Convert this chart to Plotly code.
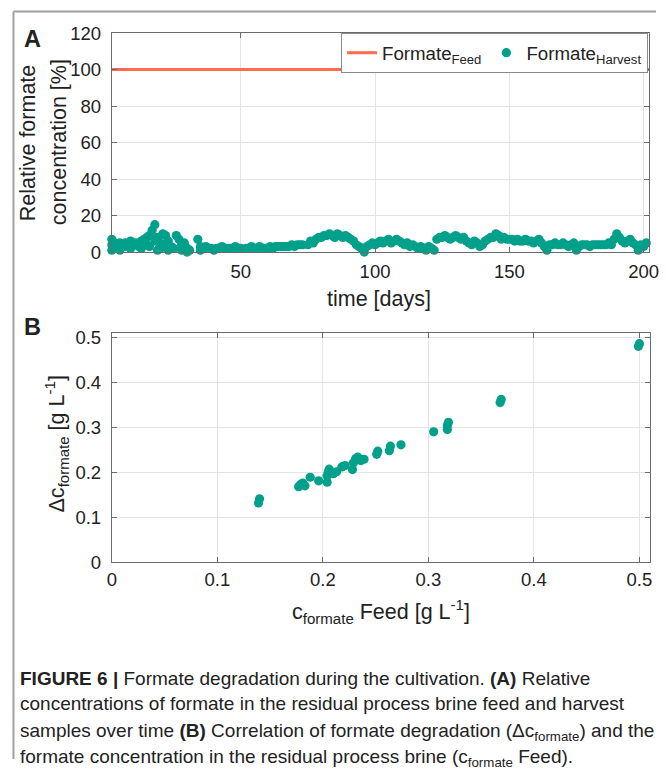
import plotly.graph_objects as go

# ---------------- data ----------------
# Panel A: relative formate concentration in harvest samples [%]
harvest_days = [
    2, 2, 2, 3, 3, 4, 5, 5, 6, 7, 7, 8, 9, 9, 10, 11, 12, 13, 13, 14,
    15, 15, 16, 16, 17, 18, 18, 19, 19, 20, 20, 21, 22, 22, 23, 23, 24, 25, 26, 27,
    28, 28, 29, 30, 30, 31, 34, 35, 35, 36, 37, 38, 39, 40, 41, 42, 43, 44, 45, 46,
    47, 48, 49, 50, 52, 53, 54, 55, 56, 57, 58, 59, 60, 61, 62, 63, 64, 65, 66, 67,
    68, 69, 70, 71, 72, 73, 75, 76, 77, 78, 79, 80, 81, 82, 83, 84, 85, 86, 87, 88,
    89, 90, 91, 92, 93, 94, 95, 96, 97, 98, 99, 100, 101, 102, 103, 104, 105, 106, 107, 108,
    109, 110, 111, 112, 113, 114, 115, 116, 117, 118, 119, 120, 121, 122, 123, 124, 125, 126, 127, 128,
    129, 130, 131, 132, 133, 134, 135, 136, 137, 138, 139, 140, 141, 142, 143, 144, 145, 146, 147, 148,
    149, 150, 151, 152, 153, 154, 155, 156, 157, 158, 159, 160, 161, 162, 163, 164, 165, 166, 167, 168,
    169, 170, 171, 172, 173, 174, 175, 176, 177, 178, 179, 180, 181, 182, 183, 184, 185, 186, 187, 188,
    189, 190, 191, 192, 193, 194, 195, 196, 197, 198, 199, 200, 201,
]
harvest_values = [
    7, 1, 4, 2, 5, 3, 5, 1, 4, 5, 3, 4, 6, 2, 4, 5, 3, 6, 2, 7,
    8, 4, 9, 3, 12, 15, 6, 8, 1, 5, 2, 10, 9, 4, 6, 1, 3, 2, 9, 7,
    4, 1, 5, 2, 0, 1, 7, 3, 1, 2, 3, 2, 2, 1, 2, 2, 3, 2, 2, 2,
    2, 3, 2, 2, 2, 2, 3, 2, 2, 3, 2, 2, 2, 3, 2, 3, 3, 3, 3, 3,
    3, 4, 3, 4, 4, 4, 4, 6, 5, 7, 8, 8, 9, 9, 10, 9, 8, 10, 9, 8,
    9, 8, 7, 6, 4, 3, 2, 0, 3, 4, 5, 4, 5, 6, 5, 6, 7, 5, 6, 7,
    6, 5, 4, 5, 3, 4, 3, 2, 3, 2, 1, 3, 2, 1, 7, 8, 8, 9, 8, 7,
    8, 9, 8, 7, 8, 6, 5, 4, 6, 5, 3, 4, 6, 7, 8, 8, 10, 9, 7, 8,
    7, 7, 7, 6, 7, 6, 6, 7, 6, 6, 5, 6, 7, 5, 3, 1, 4, 4, 5, 4,
    4, 5, 4, 3, 4, 5, 1, 3, 4, 4, 4, 3, 4, 4, 4, 4, 4, 4, 5, 4,
    7, 10, 8, 6, 5, 6, 7, 5, 4, 1, 4, 3, 5,
]
# Feed reference (100 %)
feed_days = [0, 210]
feed_values = [100, 100]

# Panel B: c_formate Feed vs delta c_formate [g/L]
feed_conc = [
    0.139, 0.140, 0.177, 0.179, 0.181, 0.183, 0.188, 0.196, 0.204, 0.204,
    0.205, 0.206, 0.210, 0.213, 0.218, 0.221, 0.228, 0.229, 0.231, 0.233,
    0.236, 0.239, 0.251, 0.252, 0.263, 0.264, 0.274, 0.305, 0.318, 0.318,
    0.319, 0.368, 0.369, 0.499, 0.500,
]
delta_conc = [
    0.132, 0.141, 0.168, 0.173, 0.176, 0.170, 0.189, 0.181, 0.178, 0.192,
    0.200, 0.207, 0.197, 0.201, 0.212, 0.215, 0.206, 0.221, 0.230, 0.234,
    0.226, 0.229, 0.240, 0.247, 0.248, 0.258, 0.261, 0.290, 0.295, 0.304,
    0.311, 0.355, 0.362, 0.480, 0.486,
]

a_xticks = [50, 100, 150, 200]
a_yticks = [0, 20, 40, 60, 80, 100, 120]
b_ticks = [0, 0.1, 0.2, 0.3, 0.4, 0.5]
b_ticklabels = ["0", "0.1", "0.2", "0.3", "0.4", "0.5"]

caption_lines = [
    "<b>FIGURE 6 |</b> Formate degradation during the cultivation. <b>(A)</b> Relative",
    "concentrations of formate in the residual process brine feed and harvest",
    "samples over time <b>(B)</b> Correlation of formate degradation (Δc<sub>formate</sub>) and the",
    "formate concentration in the residual process brine (c<sub>formate</sub> Feed).",
]

# ---------------- layout helpers ----------------
W, H = 666, 769
# compensation for the capture's scale/offset (measured)
SX, OX = 0.979, 4.0
SY, OY = 0.975, 10.4
def px(x):
    return (x - OX) / SX / W
def py(y):
    return 1 - (y - OY) / SY / H

TEAL = "#00A08A"
RED = "#FF6B4F"
FONT = "Liberation Sans, Arial, sans-serif"
AXCOL = "#6b6b6b"
GRID = "#e4e4e4"

fig = go.Figure()
fig.add_trace(go.Scatter(
    x=feed_days, y=feed_values, mode="lines", name="Formate<sub>Feed</sub>",
    line=dict(color=RED, width=3), xaxis="x", yaxis="y",
))
fig.add_trace(go.Scatter(
    x=harvest_days, y=harvest_values, mode="markers", name="Formate<sub>Harvest</sub>",
    marker=dict(color=TEAL, size=9.2), xaxis="x", yaxis="y", cliponaxis=False,
))
fig.add_trace(go.Scatter(
    x=feed_conc, y=delta_conc, mode="markers", showlegend=False,
    marker=dict(color=TEAL, size=9.2), xaxis="x2", yaxis="y2", cliponaxis=False,
))

axis_common = dict(
    showline=True, linecolor=AXCOL, linewidth=1, mirror="ticks",
    ticks="inside", ticklen=5, tickcolor=AXCOL,
    showgrid=True, gridcolor=GRID, gridwidth=1, zeroline=False,
    tickfont=dict(family=FONT, size=18.5, color="#222"),
    ticklabeloverflow="allow",
)

fig.update_layout(
    width=W, height=H, autosize=False,
    margin=dict(l=0, r=0, t=0, b=0),
    paper_bgcolor="white", plot_bgcolor="white",
    font=dict(family=FONT, color="#222"),
    xaxis=dict(domain=[px(111), px(649)], range=[2, 202], tickvals=a_xticks, anchor="y",
               ticklabelstandoff=3, **axis_common),
    yaxis=dict(domain=[py(252), py(32.5)], range=[0, 120], tickvals=a_yticks, anchor="x",
               ticklabelstandoff=6, **axis_common),
    xaxis2=dict(domain=[px(111), px(650)], range=[0, 0.51], tickvals=b_ticks, ticktext=b_ticklabels,
                anchor="y2", ticklabelstandoff=1, **axis_common),
    yaxis2=dict(domain=[py(563), py(333)], range=[0, 0.51], tickvals=b_ticks, ticktext=b_ticklabels,
                anchor="x2", ticklabelstandoff=6, **axis_common),
    legend=dict(
        orientation="h", x=px(648), xanchor="right", y=py(32.5), yanchor="top",
        bgcolor="white", bordercolor="#8a8a8a", borderwidth=1,
        font=dict(family=FONT, size=18.7, color="#222"),
        itemwidth=30, tracegroupgap=0,
    ),
    showlegend=True,
)

ann = []
def text(x, y, s, size, angle=0, xanchor="center", yanchor="middle", family=FONT):
    ann.append(dict(
        x=px(x), y=py(y), xref="paper", yref="paper", text=s, showarrow=False,
        textangle=angle, xanchor=xanchor, yanchor=yanchor,
        font=dict(family=family, size=size, color="#222"),
    ))

text(32, 38, "<b>A</b>", 23.5)
text(32, 327, "<b>B</b>", 23.5)
text(27, 142, "Relative formate", 21.5, angle=-90)
text(58, 142, "concentration [%]", 21.5, angle=-90)
text(379, 299, "time [days]", 21.5)
text(56, 444, "Δc<sub>formate</sub> [g L<sup>-1</sup>]", 21.5, angle=-90)
text(381, 612, "c<sub>formate</sub> Feed [g L<sup>-1</sup>]", 21.5)

caption_y = [679, 704.5, 733.5, 759]
for line, yy in zip(caption_lines, caption_y):
    text(17, yy, line, 19.0, xanchor="left")

fig.update_layout(annotations=ann)

# frame around figure (top and left edges)
frame = dict(type="line", xref="paper", yref="paper", line=dict(color="#a0a0a0", width=2))
fig.update_layout(shapes=[
    dict(frame, x0=px(12.5), x1=1.0, y0=py(11), y1=py(11)),
    dict(frame, x0=px(12.5), x1=px(12.5), y0=py(11), y1=0.0),
])

fig.write_html(
    "out.html",
    config={"displayModeBar": False},
    post_script="document.body.style.margin='0';document.body.style.overflow='hidden';",
)
